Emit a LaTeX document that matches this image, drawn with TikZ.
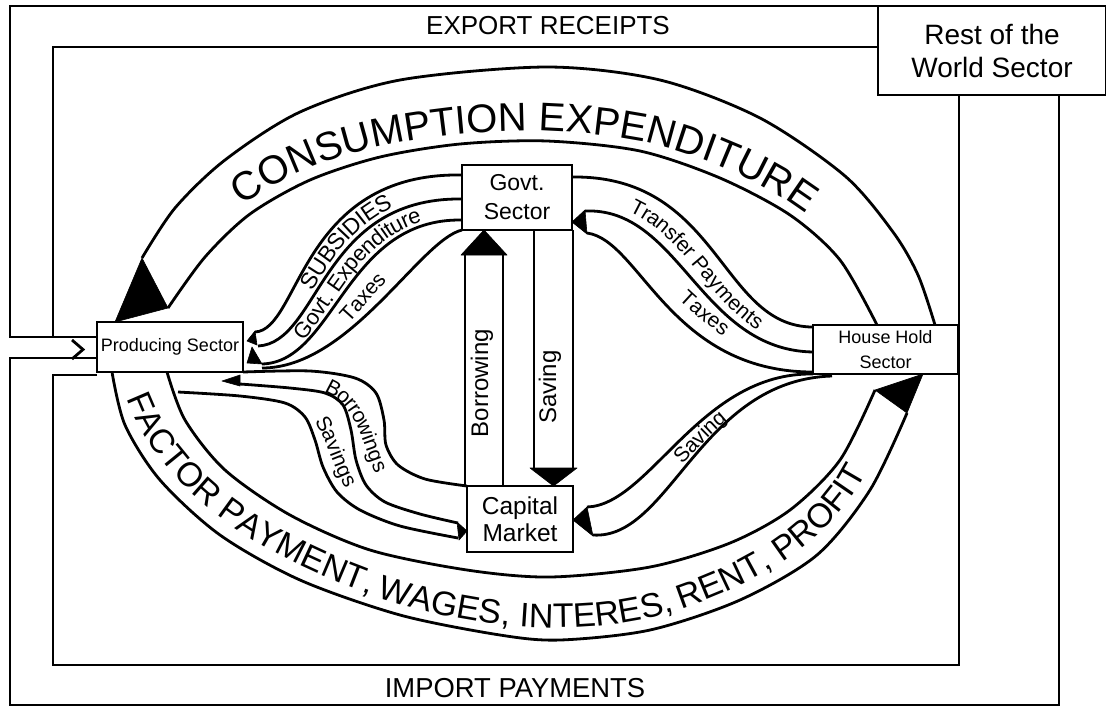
\documentclass[tikz,border=0pt]{standalone}
\usepackage{fontspec}
\setmainfont{Liberation Sans}
\usetikzlibrary{decorations.text,backgrounds}
\begin{document}
\begin{tikzpicture}[x=0.5pt,y=-0.5pt,
  flow/.style={line width=1.4pt},
  frame/.style={line width=1.4pt, line join=miter},
  sector/.style={draw, line width=1.4pt, fill=white, inner sep=0pt, outer sep=0pt, align=center},
  tip/.style={fill=black, draw=black, line width=0.3pt, line join=round},
  label/.style={inner sep=0pt},
  vlabel/.style={inner sep=0pt, rotate=90, font=\fontsize{12}{12}\selectfont},
]
\useasboundingbox (0,0) rectangle (1106,708);

% ---------- sectors ----------
\node[sector, minimum width=73pt, minimum height=25pt, font=\fontsize{9}{11}\selectfont] (prod) at (170,347) {Producing Sector};
\node[sector, minimum width=72.5pt, minimum height=24.5pt, font=\fontsize{9}{12.5}\selectfont] (hh) at (885.5,349.5) {House Hold\\Sector};
\node[sector, minimum width=55pt, minimum height=32.5pt, font=\fontsize{11.5}{14.5}\selectfont] (gov) at (517,197.5) {Govt.\\Sector};
\node[sector, minimum width=53pt, minimum height=33pt, font=\fontsize{12.25}{13.5}\selectfont] (cap) at (520,519) {Capital\\Market};
\node[sector, minimum width=114pt, minimum height=44.5pt, font=\fontsize{14}{16.5}\selectfont] (rw) at (992,50.5) {Rest of the\\World Sector};

\node[label, font=\fontsize{13}{13}\selectfont] (exp) at (548,26) {EXPORT RECEIPTS};
\node[label, font=\fontsize{13.7}{13.7}\selectfont] (imp) at (515,688) {IMPORT PAYMENTS};

\coordinate (ceo) at (hh.north -| 935,0);
\coordinate (cei) at (hh.north -| 877,0);
\coordinate (fpo) at (prod.south -| 112,0);
\coordinate (fpi) at (prod.south -| 167,0);

\begin{pgfonlayer}{background}
% ---------- foreign sector loop ----------
\draw[frame] (rw.north west) -- (10,6) -- (10,337) -- (prod.west |- 0,337);
\draw[frame] (rw.west |- 0,47) -- (53,47) -- (53,337);
\draw[frame] (72,340) -- (83,349.5) -- (72,359);
\draw[frame] (prod.west |- 0,358) -- (10,358) -- (10,705) -- (1059,705) -- (rw.south -| 1059,0);
\draw[frame] (prod.west |- 0,375) -- (53,375) -- (53,665) -- (959,665) -- (rw.south -| 959,0);

% ---------- consumption expenditure ----------
\draw[flow] plot[smooth] coordinates {(142,258) (175,208) (225,160) (300,112) (400,80) (547,67) (660,80) (760,118) (845,176) (893,232) (918,275) (ceo)};
\draw[flow] plot[smooth] coordinates {(168,308) (205,257) (250,214) (310,180) (380,157) (460,144) (547,141) (640,151) (720,178) (790,215) (840,260) (cei)};
\filldraw[tip] (142,258) -- ([xshift=9pt]prod.north west) -- (168,308) -- cycle;
\path[decorate, decoration={text along path, text align=center,
  text={|\fontsize{20}{20}\selectfont|CONSUMPTION EXPENDITURE}}]
  plot[smooth] coordinates {(160,296) (196,248) (243,205) (305,170) (378,147) (460,134) (547,131) (640,141) (722,167) (793,205) (845,250) (880,310)};

% ---------- factor payments ----------
\draw[flow] plot[smooth] coordinates {(fpo) (125,425) (160,480) (220,535) (300,580) (400,615) (500,635) (560,640) (650,630) (740,600) (817,555) (870,490) (907,413)};
\draw[flow] plot[smooth] coordinates {(fpi) (185,420) (225,470) (290,515) (370,550) (467,570) (550,577) (650,567) (730,543) (790,510) (840,460) (875,390)};
\filldraw[tip] (875,390) -- (hh.south -| 923,0) -- (907,413) -- cycle;
\path[decorate, decoration={text along path, text align=center,
  text={|\fontsize{17}{17}\selectfont|FACTOR PAYMENT{,}}}]
  (123.6,389.8) .. controls (159.9,498.9) and (269.8,559.3) .. (378.4,597.4);
\path[decorate, decoration={text along path, text align=center,
  text={|\fontsize{17}{17}\selectfont|WAGES{,} INTERES{,}}}]
  (368,593.8) .. controls (469,629.2) and (581.5,641.3) .. (683.4,608.6);
\path[decorate, decoration={text along path, text align=center,
  text={|\fontsize{17}{17}\selectfont|RENT{,} PROFIT}}]
  (672.9,612) .. controls (753.8,586) and (835,541.5) .. (870.4,464.2);

% ---------- government and producers ----------
\draw[flow] (gov.west |- 0,175) .. controls (300,172) and (300,330) .. (255,332);
\draw[flow] (gov.west |- 0,199) .. controls (320,197) and (320,343) .. (258,346);
\draw[flow] (gov.west |- 0,220) .. controls (345,218) and (335,362) .. (262,364);
\draw[flow] (gov.south west) .. controls (420,240) and (350,368) .. (262,368);
\filldraw[tip] (255,331) -- (247,341) -- (257,345) -- cycle;
\filldraw[tip] (252,347) -- (247,363) -- (262,364) -- cycle;
\path[decorate, decoration={text along path, text align=center, raise=-4pt,
  text={|\fontsize{11.5}{11.5}\selectfont|SUBSIDIES}}]
  (256.5,339) .. controls (310,336.5) and (310,184.5) .. (462,187);
\path[decorate, decoration={text along path, text align=center, raise=-3.75pt,
  text={|\fontsize{11}{11}\selectfont|Govt. Expenditure}}]
  (260,355) .. controls (327.5,352.5) and (332.5,207.5) .. (462,209.5);
\path[decorate, decoration={text along path, text align=center, raise=-3.75pt,
  text={|\fontsize{10.5}{10.5}\selectfont|Taxes}}]
  (262,366) .. controls (342.5,365) and (382.5,229) .. (462,226);

% ---------- government and households ----------
\draw[flow] (gov.east |- 0,177) .. controls (720,175) and (720,327) .. (hh.west |- 0,327);
\draw[flow] (585,211) .. controls (680,207) and (700,350) .. (hh.west |- 0,352);
\draw[flow] (587,233) .. controls (640,240) and (670,372) .. (hh.west |- 0,372);
\filldraw[tip] (585,210) -- (gov.east |- 0,222) -- (587,234) -- cycle;
\path[decorate, decoration={text along path, text align=center, raise=-3.75pt,
  text={|\fontsize{10.5}{10.5}\selectfont|Transfer Payments}}]
  (579.5,194.5) .. controls (700,192.5) and (710,338.5) .. (813,339.5);
\path[decorate, decoration={text along path, text align=center, raise=-3.75pt,
  text={|\fontsize{10.5}{10.5}\selectfont|Taxes}}]
  (643.8,252.8) .. controls (681.8,295.3) and (724.9,336.1) .. (777.6,357.8);

% ---------- households to capital market ----------
\draw[flow] (hh.south west) .. controls (700,372) and (650,505) .. (587,507);
\draw[flow] (832,376) .. controls (700,380) and (670,540) .. (593,535);
\filldraw[tip] (587,507) -- (cap.east |- 0,520) -- (593,536) -- cycle;
\path[decorate, decoration={text along path, text align=center, raise=-3.75pt,
  text={|\fontsize{10.5}{10.5}\selectfont|Saving}}]
  (590,521) .. controls (660,522.5) and (700,376) .. (822.5,375.5);

% ---------- producers and capital market ----------
\draw[flow] plot[smooth] coordinates {(prod.south east) (310,371) (355,378) (376,393) (384,420) (386,445) (398,465) (425,479) (cap.north west)};
\draw[flow] plot[smooth] coordinates {(240,384) (290,388) (325,393) (343,405) (351,430) (356,460) (366,485) (385,502) (420,514) (458,523)};
\draw[flow] plot[smooth] coordinates {(178,392) (240,396) (285,403) (305,417) (315,440) (323,467) (337,492) (360,510) (400,526) (458,538)};
\filldraw[tip] (240,375) -- (222,381) -- (240,386) -- cycle;
\filldraw[tip] (457,522) -- (cap.west |- 0,531) -- (459,540) -- cycle;
\path[decorate, decoration={text along path, text align=center, raise=-3.75pt,
  text={|\fontsize{10.5}{10.5}\selectfont|Borrowings}}]
  (305,381) .. controls (375,385) and (365,460) .. (395,490);
\path[decorate, decoration={text along path, text align=center, raise=-3.75pt,
  text={|\fontsize{10.5}{10.5}\selectfont|Savings}}]
  (285,396) .. controls (345,400) and (330,500) .. (385,512);

% ---------- government and capital market ----------
\draw[flow] (cap.north -| 465,0) -- (465,255);
\draw[flow] (cap.north -| 503,0) -- (503,255);
\filldraw[tip] (461,255) -- (507,255) -- (gov.south -| 484,0) -- cycle;
\draw[flow] (gov.south -| 534,0) -- (534,468);
\draw[flow] (gov.south -| 573,0) -- (573,468);
\filldraw[tip] (530,468) -- (577,468) -- (cap.north -| 553.5,0) -- cycle;
\end{pgfonlayer}

\node[vlabel] (borrow) at (482,383) {Borrowing};
\node[vlabel] (save) at (550,387) {Saving};
\end{tikzpicture}
\end{document}
